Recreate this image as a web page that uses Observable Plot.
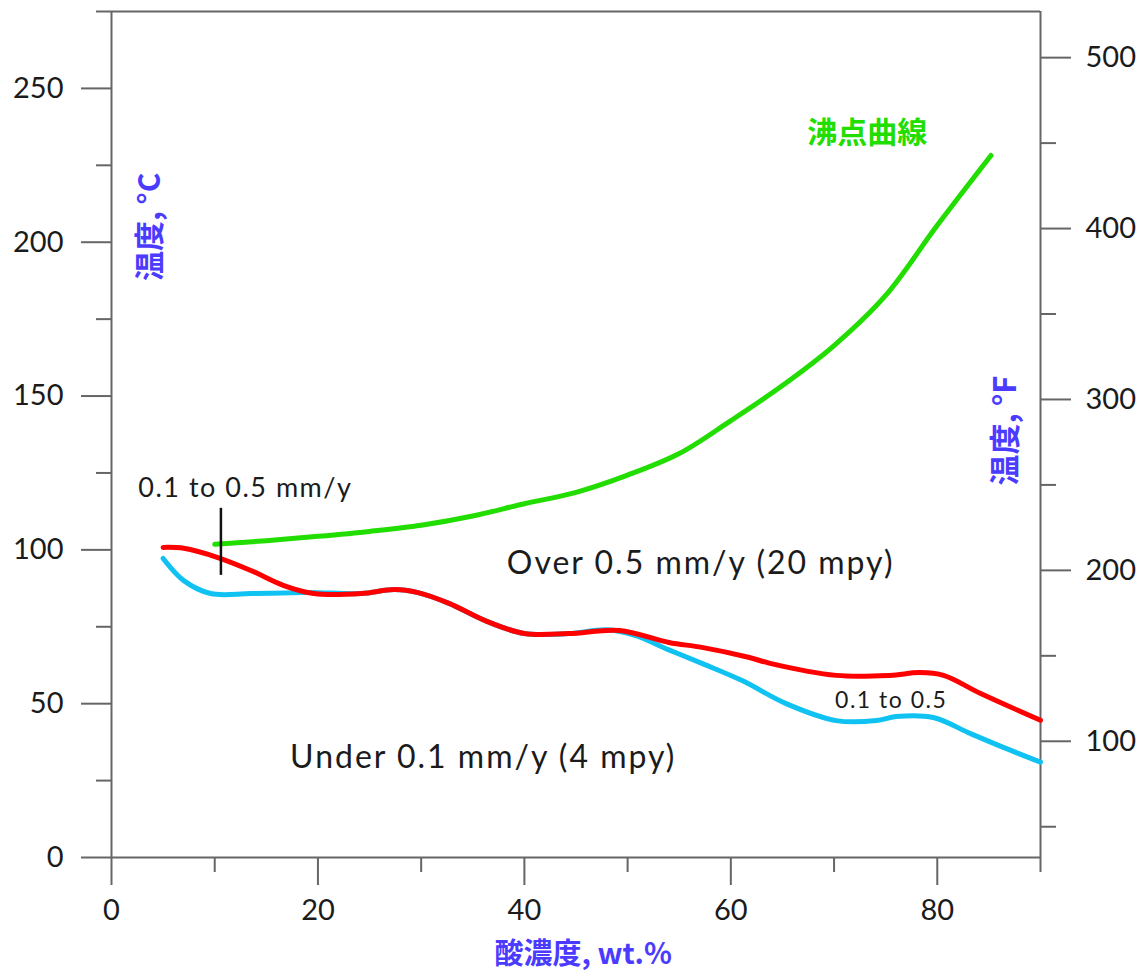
<!DOCTYPE html>
<html><head><meta charset="utf-8">
<script src="https://cdn.jsdelivr.net/npm/d3@7"></script>
<script src="https://cdn.jsdelivr.net/npm/@observablehq/plot@0.6"></script>
<style>
html,body{margin:0;padding:0;background:#fff;}
</style></head>
<body><div id="chart"></div>
<script>
// Boiling-point curve (沸点曲線)
const boilX = [10, 15, 20, 25, 30, 35, 40, 45, 50, 55, 60, 65, 70, 75, 80, 85.2];
const boilY = [101.8, 103, 104.4, 106, 108, 111, 115, 118.7, 124.3, 131.3, 142, 153.4, 166.4, 182.7, 205.5, 228.2];
// 0.5 mm/y iso-corrosion line (red)
const redX = [5, 7, 10.3, 13.5, 16.7, 19.6, 24.2, 27.4, 29.7, 32.7, 36.2, 40, 44.3, 49.2, 54, 57.2, 61.8, 63.8, 70.2, 75.4, 78.3, 80.6, 84.2, 90];
const redY = [100.8, 100.5, 97.5, 93.3, 88.4, 85.8, 85.8, 87.1, 86.1, 82.6, 77, 72.8, 72.8, 73.8, 69.9, 68.3, 65, 63.1, 59.2, 59.2, 60.1, 59.2, 53.3, 44.6];
// 0.1 mm/y iso-corrosion line (cyan)
const cyanX = [5, 7, 9.6, 13.5, 18.4, 20, 24.2, 27.4, 29.7, 32.7, 36.2, 40, 44.3, 48, 50.7, 54, 57.2, 61.1, 65.3, 70.2, 74.1, 76, 79.6, 83.2, 86.4, 90];
const cyanY = [97.2, 90, 85.8, 85.8, 86.1, 86.1, 85.8, 87.1, 86.1, 82.6, 77, 72.8, 72.8, 74, 72.2, 67.5, 63.1, 57.5, 50.1, 44.5, 44.5, 45.8, 45.5, 40.3, 35.8, 31];
// Axis ticks
const xMajor = [0, 20, 40, 60, 80];
const xMinor = [10, 30, 50, 70, 90];
const yMajor = [0, 50, 100, 150, 200, 250];
const yMinor = [25, 75, 125, 175, 225, 275];
const fMajor = [100, 200, 300, 400, 500];
const fMinor = [50, 150, 250, 350, 450];
// marker line
const markX = [10.6];
const markY1 = [91.7], markY2 = [113.5];

const toC = f => (f - 32) * 5 / 9;
const pts = (xs, ys) => xs.map((x, i) => ({x, y: ys[i]}));

const font = "Lato, 'Open Sans', sans-serif";
const cjk = "'Noto Sans CJK JP', 'Noto Sans', sans-serif";
const ink = "#1b1b1b";
const axisCol = "#666";
const blue = "#4b3bff";

const plot = Plot.plot({
  width: 1140, height: 973,
  marginLeft: 111, marginRight: 100, marginTop: 11, marginBottom: 116,
  style: {fontFamily: font, background: "#fff"},
  x: {domain: [0, 90]},
  y: {domain: [0, 275]},
  marks: [
    // frame
    Plot.ruleY([0], {x1: 0, x2: 90, stroke: axisCol, strokeWidth: 2}),
    Plot.ruleY([275], {x1: 0, x2: 90, stroke: axisCol, strokeWidth: 2}),
    Plot.ruleX([0], {y1: 0, y2: 275, stroke: axisCol, strokeWidth: 2}),
    Plot.ruleX([90], {y1: 0, y2: 275, stroke: axisCol, strokeWidth: 2}),
    // x axis
    Plot.axisX({ticks: xMajor, tickSize: 28, tickPadding: 14, fontSize: 29, stroke: axisCol, strokeWidth: 2, color: ink, label: null}),
    Plot.axisX({ticks: xMinor, tickSize: 15, tickFormat: () => "", stroke: axisCol, strokeWidth: 2, label: null}),
    // left y axis
    Plot.axisY({anchor: "left", ticks: yMajor, tickSize: 30, tickPadding: 18, fontSize: 29, stroke: axisCol, strokeWidth: 2, color: ink, label: null}),
    Plot.axisY({anchor: "left", ticks: yMinor, tickSize: 15, tickFormat: () => "", stroke: axisCol, strokeWidth: 2, label: null}),
    // right y axis (°F)
    Plot.axisY({anchor: "right", ticks: fMajor.map(toC), tickFormat: c => Math.round(c * 9 / 5 + 32), tickSize: 30, tickPadding: 15, fontSize: 29, stroke: axisCol, strokeWidth: 2, color: ink, label: null}),
    Plot.axisY({anchor: "right", ticks: fMinor.map(toC), tickSize: 15, tickFormat: () => "", stroke: axisCol, strokeWidth: 2, label: null}),
    // curves
    Plot.line(pts(cyanX, cyanY), {x: "x", y: "y", stroke: "#10c2f2", strokeWidth: 5, curve: "catmull-rom"}),
    Plot.line(pts(redX, redY), {x: "x", y: "y", stroke: "#ff0000", strokeWidth: 5, curve: "catmull-rom"}),
    Plot.line(pts(boilX, boilY), {x: "x", y: "y", stroke: "#22dd00", strokeWidth: 5, curve: "catmull-rom"}),
    Plot.ruleX(markX, {y1: markY1, y2: markY2, stroke: "#111", strokeWidth: 2.5}),
    // annotations
    Plot.text(["0.1 to 0.5 mm/y"], {x: 2.6, y: 120, textAnchor: "start", fontSize: 27, fill: ink}),
    Plot.text(["Over 0.5 mm/y (20 mpy)"], {x: 38.3, y: 95.6, textAnchor: "start", fontSize: 32, fill: ink}),
    Plot.text(["Under 0.1 mm/y (4 mpy)"], {x: 17.3, y: 32.5, textAnchor: "start", fontSize: 32, fill: ink}),
    Plot.text(["0.1 to 0.5"], {x: 70.1, y: 51, textAnchor: "start", fontSize: 23, fill: ink}),
    Plot.text(["沸点曲線"], {x: 67.4, y: 235.4, textAnchor: "start", fontSize: 30, fontWeight: "bold", fill: "#22dd00", fontFamily: cjk}),
    // axis titles
    Plot.text(["温度, °C"], {x: 3.8, y: 205, rotate: -90, fontSize: 30, fontWeight: "bold", fill: blue, fontFamily: cjk}),
    Plot.text(["温度, °F"], {x: 86.7, y: 138.8, rotate: -90, fontSize: 31, fontWeight: "bold", fill: blue, fontFamily: cjk}),
    Plot.text(["酸濃度, wt.%"], {x: 45.7, y: -31.5, fontSize: 29, fontWeight: "bold", fill: blue, fontFamily: cjk})
  ]
});
// widen letter spacing of the annotation texts to match the reference's typeface
const spacing = {"Over 0.5 mm/y (20 mpy)": 2, "Under 0.1 mm/y (4 mpy)": 2, "0.1 to 0.5 mm/y": 1.5, "0.1 to 0.5": 1.5};
d3.select(plot).selectAll("text").each(function() {
  const s = spacing[this.textContent];
  if (s) this.setAttribute("letter-spacing", s);
});
document.getElementById("chart").appendChild(plot);
</script>
</body></html>
